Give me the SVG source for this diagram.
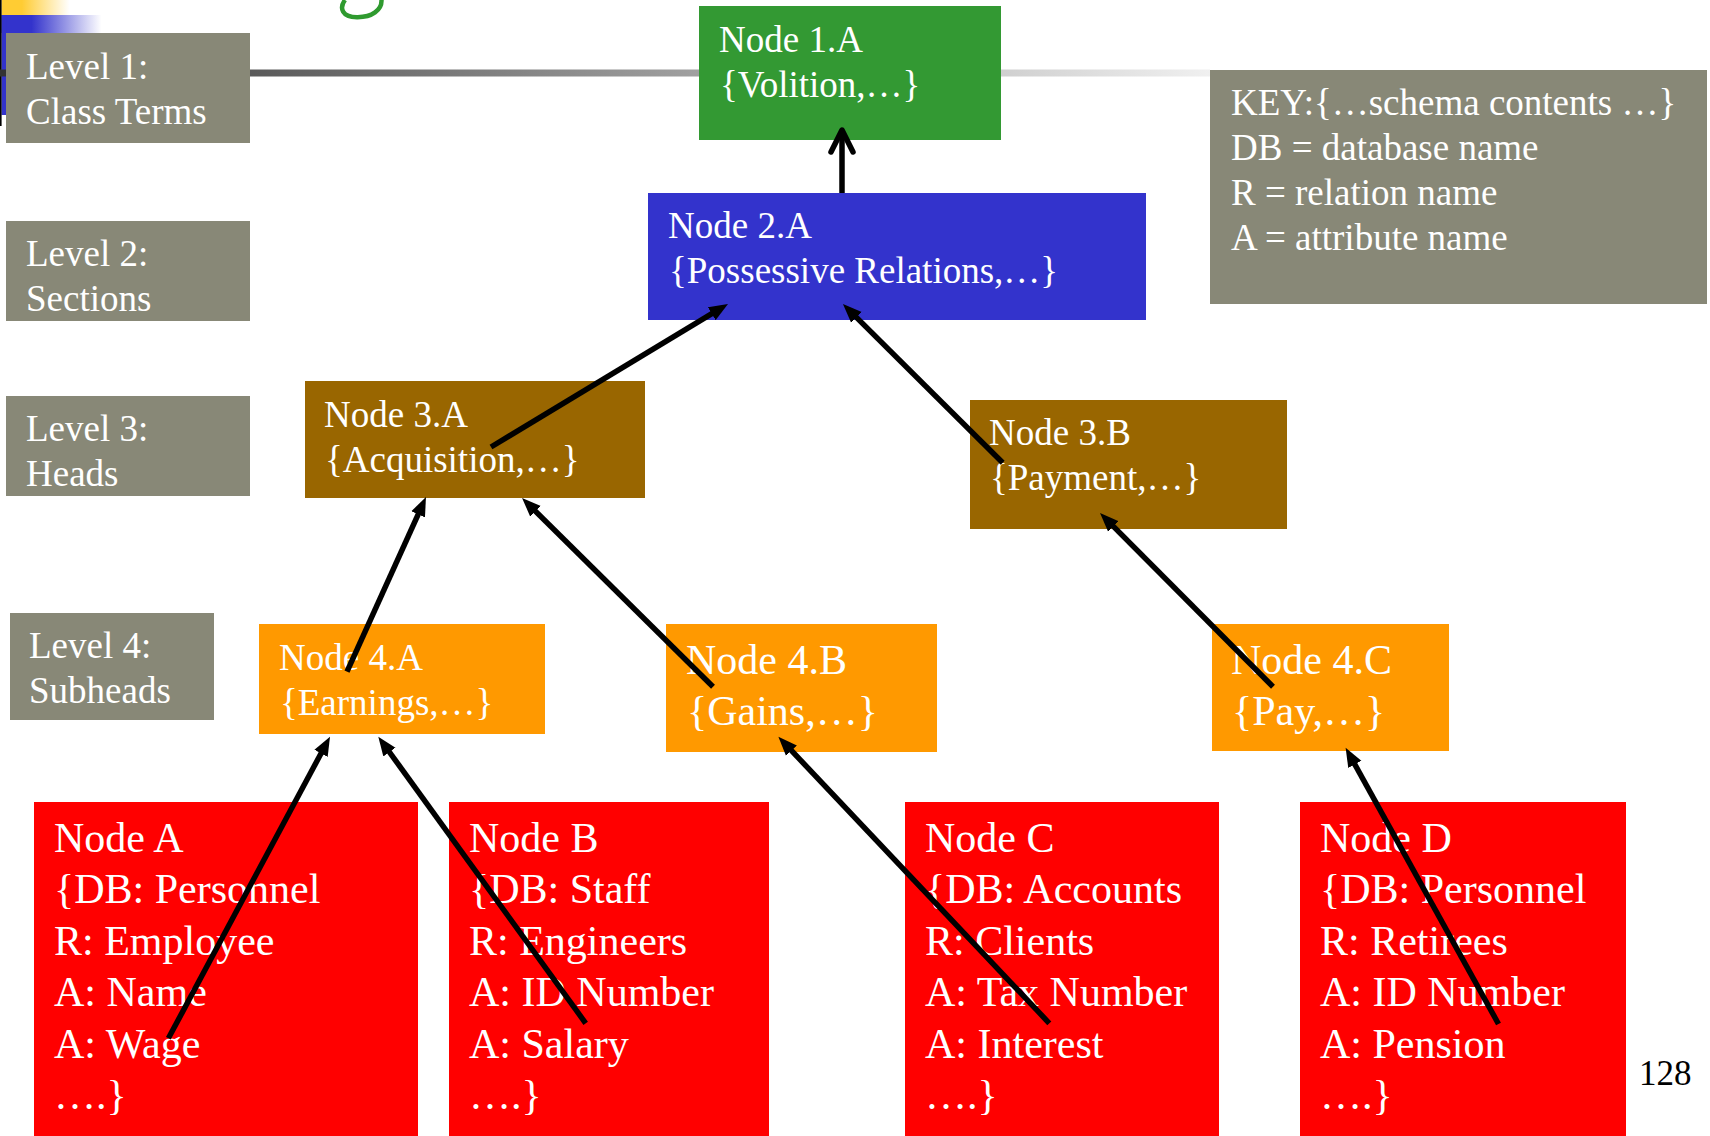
<svg xmlns="http://www.w3.org/2000/svg" width="1710" height="1136" viewBox="0 0 1710 1136">
  <defs>
    <style>
      .lvl { fill: #888877; }
      .t { font-family: "Liberation Serif", "Times New Roman", serif; fill: #ffffff; }
      .s37 { font-size: 37px; }
      .s42 { font-size: 42px; }
      .conn { stroke: #000000; stroke-width: 5.5; fill: none; }
    </style>
    <linearGradient id="rule" x1="0" y1="0" x2="1" y2="0">
      <stop offset="0" stop-color="#333333"/>
      <stop offset="1" stop-color="#f0f0f0"/>
    </linearGradient>
    <linearGradient id="barYellow" x1="0" y1="0" x2="1" y2="0">
      <stop offset="0" stop-color="#ffcc33"/>
      <stop offset="0.3" stop-color="#ffcc33"/>
      <stop offset="1" stop-color="#ffffff"/>
    </linearGradient>
    <linearGradient id="barBlue" x1="0" y1="0" x2="1" y2="0">
      <stop offset="0" stop-color="#3333cc"/>
      <stop offset="0.3" stop-color="#3333cc"/>
      <stop offset="1" stop-color="#ffffff"/>
    </linearGradient>
    <!-- solid arrowhead; tip sits 14px past the line end -->
    <marker id="head" markerUnits="userSpaceOnUse" markerWidth="20" markerHeight="16" viewBox="0 -8 20 16" refX="5" refY="0" orient="auto">
      <path d="M0,-7.5 L19,0 L0,7.5 Z" fill="#000000"/>
    </marker>
  </defs>

  <rect width="1710" height="1136" fill="#ffffff"/>

  <!-- slide decoration -->
  <g id="decoration">
    <rect x="1.5" y="0" width="68" height="15" fill="url(#barYellow)"/>
    <rect x="1.5" y="15" width="100" height="18" fill="url(#barBlue)"/>
    <rect x="1.5" y="15" width="5" height="100" fill="#3333cc"/>
    <rect x="0" y="0" width="1.6" height="126" fill="#000000"/>
    <rect x="0" y="69.5" width="1210" height="7" fill="url(#rule)"/>
    <!-- green swash at the top edge -->
    <path d="M345,0 C339,8 342,17 357,17.2 C372,17.4 382,10 381.5,0" fill="none" stroke="#2f9a2f" stroke-width="4.5"/>
  </g>

  <!-- level labels -->
  <g id="level1">
    <rect class="lvl" x="6" y="33" width="244" height="110"/>
    <text class="t s37" x="26" y="79">Level 1:</text>
    <text class="t s37" x="26" y="124">Class Terms</text>
  </g>
  <g id="level2">
    <rect class="lvl" x="6" y="221" width="244" height="100"/>
    <text class="t s37" x="26" y="266">Level 2:</text>
    <text class="t s37" x="26" y="311">Sections</text>
  </g>
  <g id="level3">
    <rect class="lvl" x="6" y="396" width="244" height="100"/>
    <text class="t s37" x="26" y="441">Level 3:</text>
    <text class="t s37" x="26" y="486">Heads</text>
  </g>
  <g id="level4">
    <rect class="lvl" x="10" y="613" width="204" height="107"/>
    <text class="t s37" x="29" y="658">Level 4:</text>
    <text class="t s37" x="29" y="703">Subheads</text>
  </g>

  <!-- key -->
  <g id="key">
    <rect class="lvl" x="1210" y="70" width="497" height="234"/>
    <text class="t s37" x="1231" y="115">KEY:{…schema contents …}</text>
    <text class="t s37" x="1231" y="160">DB = database name</text>
    <text class="t s37" x="1231" y="205">R = relation name</text>
    <text class="t s37" x="1231" y="250">A = attribute name</text>
  </g>

  <!-- tree nodes -->
  <g id="node-1A">
    <rect x="699" y="6" width="302" height="134" fill="#339933"/>
    <text class="t s37" x="719" y="52">Node 1.A</text>
    <text class="t s37" x="720" y="97">{Volition,…}</text>
  </g>
  <g id="node-2A">
    <rect x="648" y="193" width="498" height="127" fill="#3333cc"/>
    <text class="t s37" x="668" y="238">Node 2.A</text>
    <text class="t s37" x="669" y="283">{Possessive Relations,…}</text>
  </g>
  <g id="node-3A">
    <rect x="305" y="381" width="340" height="117" fill="#996600"/>
    <text class="t s37" x="324" y="427">Node 3.A</text>
    <text class="t s37" x="325" y="472">{Acquisition,…}</text>
  </g>
  <g id="node-3B">
    <rect x="970" y="400" width="317" height="129" fill="#996600"/>
    <text class="t s37" x="989" y="445">Node 3.B</text>
    <text class="t s37" x="990" y="490">{Payment,…}</text>
  </g>
  <g id="node-4A">
    <rect x="259" y="624" width="286" height="110" fill="#ff9900"/>
    <text class="t s37" x="279" y="670">Node 4.A</text>
    <text class="t s37" x="280" y="715">{Earnings,…}</text>
  </g>
  <g id="node-4B">
    <rect x="666" y="624" width="271" height="128" fill="#ff9900"/>
    <text class="t s42" x="686" y="674">Node 4.B</text>
    <text class="t s42" x="687" y="725">{Gains,…}</text>
  </g>
  <g id="node-4C">
    <rect x="1212" y="624" width="237" height="127" fill="#ff9900"/>
    <text class="t s42" x="1231" y="674">Node 4.C</text>
    <text class="t s42" x="1232" y="725">{Pay,…}</text>
  </g>
  <g id="node-A">
    <rect x="34" y="802" width="384" height="334" fill="#ff0000"/>
    <text class="t s42" x="54" y="852">Node A</text>
    <text class="t s42" x="54" y="903">{DB: Personnel</text>
    <text class="t s42" x="54" y="955">R: Employee</text>
    <text class="t s42" x="54" y="1006">A: Name</text>
    <text class="t s42" x="54" y="1058">A: Wage</text>
    <text class="t s42" x="54" y="1109">….}</text>
  </g>
  <g id="node-B">
    <rect x="449" y="802" width="320" height="334" fill="#ff0000"/>
    <text class="t s42" x="469" y="852">Node B</text>
    <text class="t s42" x="469" y="903">{DB: Staff</text>
    <text class="t s42" x="469" y="955">R: Engineers</text>
    <text class="t s42" x="469" y="1006">A: ID Number</text>
    <text class="t s42" x="469" y="1058">A: Salary</text>
    <text class="t s42" x="469" y="1109">….}</text>
  </g>
  <g id="node-C">
    <rect x="905" y="802" width="314" height="334" fill="#ff0000"/>
    <text class="t s42" x="925" y="852">Node C</text>
    <text class="t s42" x="925" y="903">{DB: Accounts</text>
    <text class="t s42" x="925" y="955">R: Clients</text>
    <text class="t s42" x="925" y="1006">A: Tax Number</text>
    <text class="t s42" x="925" y="1058">A: Interest</text>
    <text class="t s42" x="925" y="1109">….}</text>
  </g>
  <g id="node-D">
    <rect x="1300" y="802" width="326" height="334" fill="#ff0000"/>
    <text class="t s42" x="1320" y="852">Node D</text>
    <text class="t s42" x="1320" y="903">{DB: Personnel</text>
    <text class="t s42" x="1320" y="955">R: Retirees</text>
    <text class="t s42" x="1320" y="1006">A: ID Number</text>
    <text class="t s42" x="1320" y="1058">A: Pension</text>
    <text class="t s42" x="1320" y="1109">….}</text>
  </g>

  <!-- page number -->
  <text x="1639" y="1085" style="font-family:'Liberation Serif','Times New Roman',serif;font-size:35px;fill:#000000">128</text>

  <!-- connectors: child to parent -->
  <g id="connectors">
    <line class="conn" x1="842" y1="193" x2="842" y2="131"/>
    <polyline class="conn" points="831,152 842,130 853,152" stroke-linecap="round" stroke-linejoin="round"/>
    <line class="conn" x1="491" y1="447" x2="716" y2="311.2" marker-end="url(#head)"/>
    <line class="conn" x1="1002.7" y1="462.7" x2="852.9" y2="313.9" marker-end="url(#head)"/>
    <line class="conn" x1="347" y1="671.7" x2="420.2" y2="509.8" marker-end="url(#head)"/>
    <line class="conn" x1="713" y1="686.7" x2="532" y2="507.8" marker-end="url(#head)"/>
    <line class="conn" x1="1273" y1="686.7" x2="1109.9" y2="522.9" marker-end="url(#head)"/>
    <line class="conn" x1="168.4" y1="1038.3" x2="323.4" y2="749" marker-end="url(#head)"/>
    <line class="conn" x1="585.7" y1="1023.3" x2="386.5" y2="748" marker-end="url(#head)"/>
    <line class="conn" x1="1049.3" y1="1023.3" x2="788" y2="746.9" marker-end="url(#head)"/>
    <line class="conn" x1="1498.5" y1="1024" x2="1352.4" y2="760" marker-end="url(#head)"/>
  </g>
</svg>
